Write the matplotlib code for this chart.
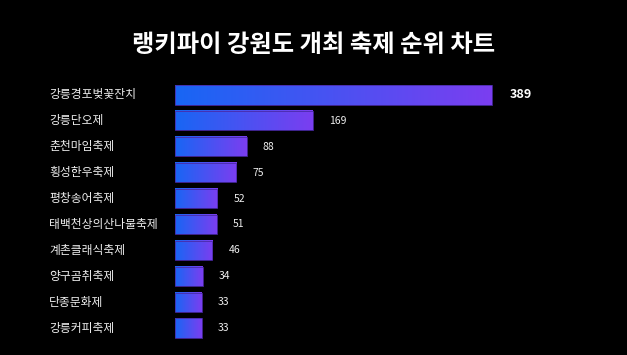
import numpy as np
import matplotlib
matplotlib.use("Agg")
import matplotlib.pyplot as plt
from matplotlib.colors import LinearSegmentedColormap
from matplotlib.transforms import blended_transform_factory

plt.rcParams["font.family"] = ["Noto Sans CJK KR", "DejaVu Sans"]

title = "랭키파이 강원도 개최 축제 순위 차트"
festivals = ["강릉경포벚꽃잔치", "강릉단오제", "춘천마임축제", "횡성한우축제", "평창송어축제",
             "태백천상의산나물축제", "계촌클래식축제", "양구곰취축제", "단종문화제", "강릉커피축제"]
scores = [389, 169, 88, 75, 52, 51, 46, 34, 33, 33]

W, H = 627, 355
fig = plt.figure(figsize=(W / 100, H / 100), dpi=100, facecolor="black")

ax_left, ax_right = 175, 600
top_bar_end = 492
ax = fig.add_axes([ax_left / W, 14 / H, (ax_right - ax_left) / W, 259 / H])
ax.set_facecolor("black")
xmax = scores[0] * (ax_right - ax_left) / (top_bar_end - ax_left)
ax.axis("off")

cmap = LinearSegmentedColormap.from_list("bar", ["#1866f4", "#7b3ef0"])
grad = np.linspace(0, 1, 256).reshape(1, -1)
bh = 0.74
px = xmax / (ax_right - ax_left)

for i, v in enumerate(scores):
    ax.imshow(grad, cmap=cmap, aspect="auto", extent=[0, v, i + bh / 2, i - bh / 2],
              interpolation="bilinear", zorder=2)
    ax.barh(i, v, height=bh, facecolor="none", edgecolor="#4a2aa8", linewidth=0.6, zorder=3)
    if i == 0:
        ax.text(v + 18 * px, i, str(v), color="white", fontsize=9, fontweight="bold",
                va="center", ha="left")
    else:
        ax.text(v + 16 * px, i, str(v), color="#eeeeee", fontsize=7.5, va="center", ha="left")

ax.set_xlim(0, xmax)
ax.set_ylim(len(scores) - 0.5, -0.5)

tr = blended_transform_factory(fig.transFigure, ax.transData)
for i, name in enumerate(festivals):
    ax.text(49 / W, i, name, color="#eeeeee", fontsize=8.5, va="center", ha="left", transform=tr)

fig.text(0.5, 1 - 45 / H, title, color="white", fontsize=17.5, fontweight="bold",
         ha="center", va="center")

fig.savefig("out.png", dpi=100, facecolor="black")
